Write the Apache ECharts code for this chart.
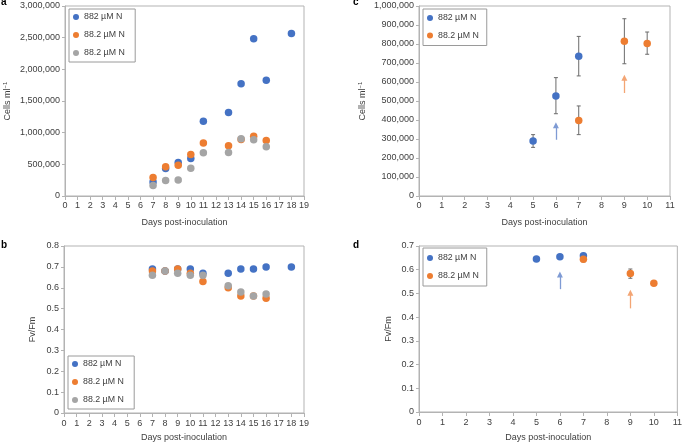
<!DOCTYPE html>
<html>
<head>
<meta charset="utf-8">
<script src="https://cdn.jsdelivr.net/npm/echarts@6/dist/echarts.min.js"></script>
<style>html,body{margin:0;padding:0;background:#fff}#c{width:685px;height:443px}</style>
</head>
<body>
<div id="c"></div>
<script>
// ---- Panel a: cell counts ----
const daysA882 = [7, 8, 9, 10, 11, 13, 14, 15, 16, 18];
const cellsA882 = [222000, 434000, 529000, 593000, 1181000, 1318000, 1771000, 2483000, 1829000, 2567000];
const daysA88 = [7, 8, 9, 10, 11, 13, 14, 15, 16];
const cellsA88a = [291000, 460000, 487000, 656000, 836000, 794000, 894000, 942000, 878000];
const cellsA88b = [164000, 243000, 254000, 439000, 683000, 688000, 905000, 889000, 778000];
// ---- Panel b: Fv/Fm ----
const daysB882 = [7, 8, 9, 10, 11, 13, 14, 15, 16, 18];
const fvB882 = [0.69, 0.68, 0.69, 0.69, 0.67, 0.67, 0.69, 0.69, 0.70, 0.70];
const daysB88 = [7, 8, 9, 10, 11, 13, 14, 15, 16];
const fvB88a = [0.68, 0.68, 0.69, 0.67, 0.63, 0.60, 0.56, 0.56, 0.55];
const fvB88b = [0.66, 0.68, 0.67, 0.66, 0.66, 0.61, 0.58, 0.56, 0.57];
// ---- Panel c: cell counts with error bars ----
const daysC882 = [5, 6, 7];
const cellsC882 = [289000, 526000, 735000];
const lowC882 = [256000, 433000, 632000];
const highC882 = [323000, 623000, 840000];
const daysC88 = [7, 9, 10];
const cellsC88 = [398000, 814000, 802000];
const lowC88 = [323000, 696000, 746000];
const highC88 = [474000, 933000, 863000];
const arrowC882 = [6, 296000, 372000];
const arrowC88 = [9, 542000, 623000];
// ---- Panel d: Fv/Fm with error bars ----
const daysD882 = [5, 6, 7];
const fvD882 = [0.645, 0.655, 0.659];
const daysD88 = [7, 9, 10];
const fvD88 = [0.644, 0.584, 0.543];
const lowD88 = [0.633, 0.564, 0.538];
const highD88 = [0.655, 0.603, 0.548];
const arrowD882 = [6, 0.518, 0.580];
const arrowD88 = [9, 0.437, 0.503];

const N882 = '882 µM N', N88 = '88.2 µM N', N88b = '88.2 µM N ';
const BLUE = '#4472C4', ORANGE = '#ED7D31', GREY = '#A5A5A5';
const FONT = 'Liberation Sans';
const AX = '#b3b3b3', TXT = '#404040';

function pts(xs, ys) { return xs.map((x, i) => [x, ys[i]]); }
function errs(xs, lo, hi) { return xs.map((x, i) => [x, lo[i], hi[i]]); }

function xAxis(gi, max, labelMargin, nameGap) {
  return {
    gridIndex: gi, type: 'value', min: 0, max: max, interval: 1,
    axisLine: { lineStyle: { color: AX } },
    axisTick: { length: 4, lineStyle: { color: AX } },
    axisLabel: { color: TXT, fontSize: 9, fontFamily: FONT, margin: labelMargin },
    splitLine: { show: false },
    name: 'Days post-inoculation', nameLocation: 'middle', nameGap: nameGap,
    nameTextStyle: { color: TXT, fontSize: 9, fontFamily: FONT }
  };
}
function yAxis(gi, max, interval, name, nameGap, fmt) {
  return {
    gridIndex: gi, type: 'value', min: 0, max: max, interval: interval,
    axisLine: { show: true, lineStyle: { color: AX } },
    axisTick: { show: true, length: 3, lineStyle: { color: AX } },
    axisLabel: { color: TXT, fontSize: 9, fontFamily: FONT, margin: 5, formatter: fmt },
    splitLine: { show: false },
    name: name, nameLocation: 'middle', nameGap: nameGap, nameRotate: 90,
    nameTextStyle: { color: TXT, fontSize: 9, fontFamily: FONT,
      rich: { sup: { fontSize: 6, fontFamily: FONT, color: TXT, verticalAlign: 'top', padding: [0, 0, 5, 0] } } }
  };
}
const commas = v => v.toLocaleString('en-US');
const dec = v => (v === 0 ? '0' : v.toFixed(1));

function scatter(name, xi, yi, data, color, z) {
  return { type: 'scatter', name: name, xAxisIndex: xi, yAxisIndex: yi, data: data,
    symbolSize: 7.5, itemStyle: { color: color, opacity: 1 }, z: z };
}
function errSeries(xi, yi, data) {
  return {
    type: 'custom', xAxisIndex: xi, yAxisIndex: yi, data: data, z: 1, silent: true,
    encode: { x: 0, y: [1, 2] },
    renderItem: function (params, api) {
      const x = api.value(0);
      const p1 = api.coord([x, api.value(1)]);
      const p2 = api.coord([x, api.value(2)]);
      const st = { stroke: '#6b6b6b', lineWidth: 1 };
      const c = 2;
      return { type: 'group', children: [
        { type: 'line', shape: { x1: p1[0], y1: p1[1], x2: p2[0], y2: p2[1] }, style: st },
        { type: 'line', shape: { x1: p1[0] - c, y1: p1[1], x2: p1[0] + c, y2: p1[1] }, style: st },
        { type: 'line', shape: { x1: p2[0] - c, y1: p2[1], x2: p2[0] + c, y2: p2[1] }, style: st }
      ] };
    }
  };
}
function arrowSeries(xi, yi, arr, color) {
  return {
    type: 'scatter', xAxisIndex: xi, yAxisIndex: yi, data: [], silent: true,
    markLine: {
      silent: true, animation: false, symbol: ['none', 'triangle'], symbolSize: [6, 6],
      label: { show: false }, emphasis: { disabled: true },
      lineStyle: { color: color, width: 1.3, type: 'solid' },
      data: [[{ coord: [arr[0], arr[1]] }, { coord: [arr[0], arr[2]] }]]
    }
  };
}
function legend(left, top, names, pad, gap) {
  return {
    left: left, top: top, orient: 'vertical', data: names,
    icon: 'circle', itemWidth: 6, itemHeight: 6, itemGap: gap,
    padding: pad, borderColor: '#9a9a9a', borderWidth: 1, borderRadius: 0,
    textStyle: { color: TXT, fontSize: 8.8, fontFamily: FONT, lineHeight: 12 },
    selectedMode: false
  };
}

const option = {
  animation: false,
  backgroundColor: '#fff',
  grid: [
    { left: 65, top: 6, width: 239, height: 190, show: true, borderColor: AX, borderWidth: 1 },
    { left: 64, top: 246, width: 240, height: 167, show: true, borderColor: AX, borderWidth: 1 },
    { left: 419, top: 6, width: 251, height: 190, show: true, borderColor: AX, borderWidth: 1 },
    { left: 419, top: 246, width: 261, height: 166, show: true, borderColor: AX, borderWidth: 1 }
  ],
  xAxis: [xAxis(0, 19, 5, 22), xAxis(1, 19, 6, 20), xAxis(2, 11, 5, 22), xAxis(3, 11, 6, 21)],
  yAxis: [
    yAxis(0, 3000000, 500000, 'Cells ml{sup|−1}', 52, commas),
    yAxis(1, 0.8, 0.1, 'Fv/Fm', 27, dec),
    yAxis(2, 1000000, 100000, 'Cells ml{sup|−1}', 51, commas),
    yAxis(3, 0.7, 0.1, 'Fv/Fm', 26, dec)
  ],
  legend: [
    legend(69, 9, [N882, N88, N88b], [2, 8, 3, 4], 6),
    legend(68, 356, [N882, N88, N88b], [2, 8, 3, 4], 6),
    legend(423, 9, [N882, N88], [3, 8, 4, 4], 5.5),
    legend(423, 248, [N882, N88], [4, 8, 4, 4], 6)
  ],
  graphic: [
    { type: 'text', left: 1, top: -3, style: { text: 'a', font: 'bold 10px ' + FONT, fill: '#000' } },
    { type: 'text', left: 1, top: 240, style: { text: 'b', font: 'bold 10px ' + FONT, fill: '#000' } },
    { type: 'text', left: 353, top: -3, style: { text: 'c', font: 'bold 10px ' + FONT, fill: '#000' } },
    { type: 'text', left: 353, top: 240, style: { text: 'd', font: 'bold 10px ' + FONT, fill: '#000' } }
  ],
  series: [
    scatter(N882, 0, 0, pts(daysA882, cellsA882), BLUE, 2),
    scatter(N88, 0, 0, pts(daysA88, cellsA88a), ORANGE, 3),
    scatter(N88b, 0, 0, pts(daysA88, cellsA88b), GREY, 4),

    scatter(N882, 1, 1, pts(daysB882, fvB882), BLUE, 2),
    scatter(N88, 1, 1, pts(daysB88, fvB88a), ORANGE, 3),
    scatter(N88b, 1, 1, pts(daysB88, fvB88b), GREY, 4),

    errSeries(2, 2, errs(daysC882, lowC882, highC882)),
    errSeries(2, 2, errs(daysC88, lowC88, highC88)),
    scatter(N882, 2, 2, pts(daysC882, cellsC882), BLUE, 2),
    scatter(N88, 2, 2, pts(daysC88, cellsC88), ORANGE, 3),
    arrowSeries(2, 2, arrowC882, '#7f9bd4'),
    arrowSeries(2, 2, arrowC88, '#f3a574'),

    errSeries(3, 3, errs(daysD88, lowD88, highD88)),
    scatter(N882, 3, 3, pts(daysD882, fvD882), BLUE, 2),
    scatter(N88, 3, 3, pts(daysD88, fvD88), ORANGE, 3),
    arrowSeries(3, 3, arrowD882, '#7f9bd4'),
    arrowSeries(3, 3, arrowD88, '#f3a574')
  ]
};
const chart = echarts.init(document.getElementById('c'), null, { renderer: 'canvas' });
chart.setOption(option);
</script>
</body>
</html>
